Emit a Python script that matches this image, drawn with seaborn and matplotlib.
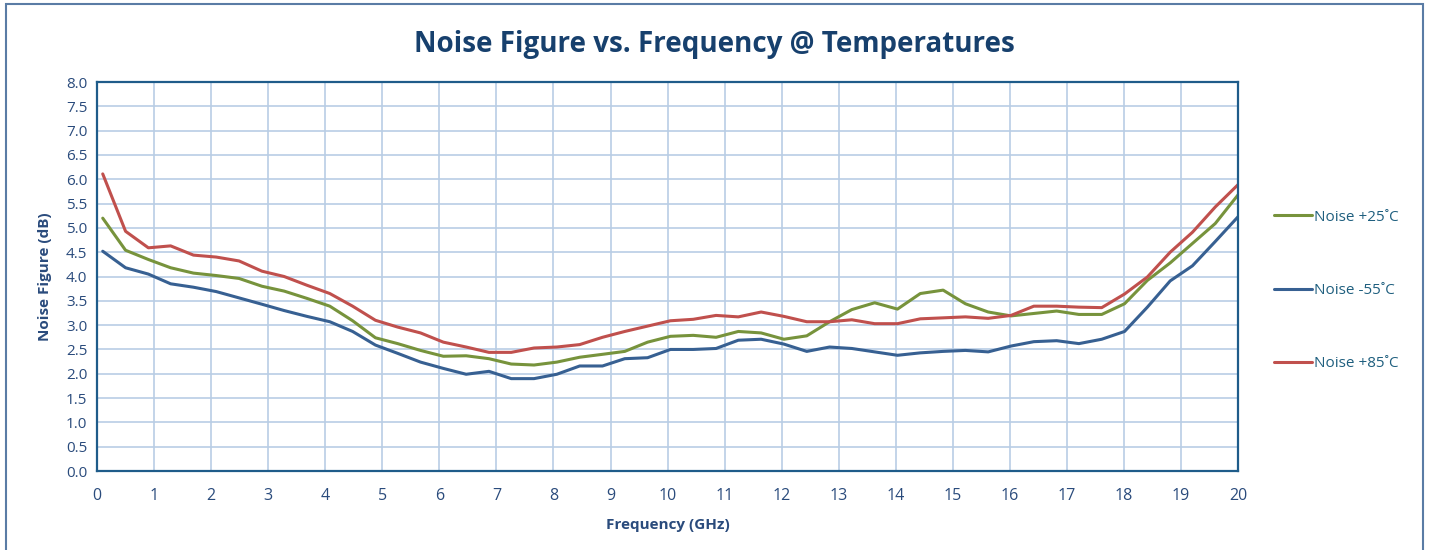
import matplotlib
matplotlib.use("Agg")
import matplotlib.pyplot as plt
import seaborn as sns
import pandas as pd
from matplotlib.patches import Rectangle

# Frequency points (GHz)
freq = [0.10, 0.50, 0.90, 1.29, 1.69, 2.09, 2.49, 2.89, 3.28, 3.68,
        4.08, 4.48, 4.88, 5.27, 5.67, 6.07, 6.47, 6.87, 7.26, 7.66,
        8.06, 8.46, 8.86, 9.25, 9.65, 10.05, 10.45, 10.85, 11.24, 11.64,
        12.04, 12.44, 12.84, 13.23, 13.63, 14.03, 14.43, 14.83, 15.22, 15.62,
        16.02, 16.42, 16.82, 17.21, 17.61, 18.01, 18.41, 18.81, 19.20, 19.60,
        20.00]

# Noise figure (dB)
nf_25 = [5.20, 4.54, 4.35, 4.18, 4.07, 4.02, 3.96, 3.80, 3.70, 3.55,
         3.39, 3.09, 2.74, 2.62, 2.48, 2.36, 2.37, 2.31, 2.20, 2.18,
         2.24, 2.34, 2.40, 2.46, 2.65, 2.77, 2.79, 2.75, 2.87, 2.84,
         2.71, 2.78, 3.07, 3.32, 3.46, 3.33, 3.65, 3.72, 3.44, 3.27,
         3.19, 3.24, 3.29, 3.22, 3.22, 3.44, 3.92, 4.28, 4.68, 5.09,
         5.68]
nf_m55 = [4.52, 4.18, 4.05, 3.85, 3.78, 3.69, 3.56, 3.43, 3.30, 3.18,
          3.07, 2.87, 2.59, 2.42, 2.24, 2.11, 1.99, 2.05, 1.90, 1.90,
          1.99, 2.16, 2.16, 2.31, 2.33, 2.50, 2.50, 2.52, 2.69, 2.71,
          2.61, 2.46, 2.55, 2.52, 2.45, 2.38, 2.43, 2.46, 2.48, 2.45,
          2.57, 2.66, 2.68, 2.62, 2.71, 2.87, 3.37, 3.91, 4.22, 4.72,
          5.23]
nf_85 = [6.11, 4.93, 4.59, 4.63, 4.44, 4.40, 4.32, 4.11, 4.00, 3.82,
         3.65, 3.39, 3.10, 2.96, 2.84, 2.65, 2.55, 2.44, 2.44, 2.53,
         2.55, 2.60, 2.75, 2.87, 2.98, 3.09, 3.12, 3.20, 3.17, 3.27,
         3.18, 3.07, 3.07, 3.11, 3.03, 3.03, 3.13, 3.15, 3.17, 3.14,
         3.20, 3.39, 3.39, 3.37, 3.36, 3.64, 3.99, 4.50, 4.91, 5.43,
         5.89]

labels = ["Noise +25˚C", "Noise -55˚C", "Noise +85˚C"]
colors = ["#77933C", "#376092", "#C0504D"]

df = pd.DataFrame({
    "freq": freq * 3,
    "nf": nf_25 + nf_m55 + nf_85,
    "series": [labels[0]] * len(freq) + [labels[1]] * len(freq) + [labels[2]] * len(freq),
})

sns.set_style("white")
plt.rcParams["font.family"] = ["Open Sans", "DejaVu Sans"]

text_col = "#2A4B7C"
frame_col = "#1F5C8A"
grid_col = "#B9CDE5"

fig = plt.figure(figsize=(14.29, 5.5), dpi=100)
ax = fig.add_axes([0.0679, 0.1436, 0.7985, 0.7073])

sns.lineplot(data=df, x="freq", y="nf", hue="series", hue_order=labels,
             palette=colors, linewidth=2.2, ax=ax, legend=False)

ax.set_xlim(0, 20)
ax.set_ylim(0, 8)
ax.set_xticks(range(0, 21))
ax.set_yticks([i * 0.5 for i in range(17)])
ax.set_yticklabels([f"{i * 0.5:.1f}" for i in range(17)])
ax.grid(True, color=grid_col, linewidth=1.2)
ax.set_axisbelow(True)
for s in ax.spines.values():
    s.set_visible(True)
    s.set_color(frame_col)
    s.set_linewidth(1.6)
ax.tick_params(axis="y", length=0, labelsize=11, colors=text_col, pad=7)
ax.tick_params(axis="x", length=0, labelsize=11.5, colors=text_col, pad=12)

ax.set_xlabel("Frequency (GHz)", fontsize=11, fontweight="bold", color=text_col, labelpad=10)
ax.set_ylabel("Noise Figure (dB)", fontsize=11, fontweight="bold", color=text_col, labelpad=10)

fig.suptitle("Noise Figure vs. Frequency @ Temperatures", x=0.5, y=0.945,
             fontsize=20, fontweight="bold", color="#17406D")

# Legend on the right
handles = [plt.Line2D([], [], color=c, linewidth=2.2) for c in colors]
leg = fig.legend(handles, labels, loc="center left", bbox_to_anchor=(0.882, 0.472),
                 frameon=False, fontsize=11, handlelength=2.5, handletextpad=0.1,
                 labelspacing=3.8, labelcolor="#1F5F7F")

# Outer chart border
fig.patches.append(Rectangle((0.004, -0.02), 0.992, 1.012, transform=fig.transFigure,
                             fill=False, edgecolor="#5A7CA5", linewidth=1.5))

fig.savefig("out.png", dpi=100)
plt.close(fig)
